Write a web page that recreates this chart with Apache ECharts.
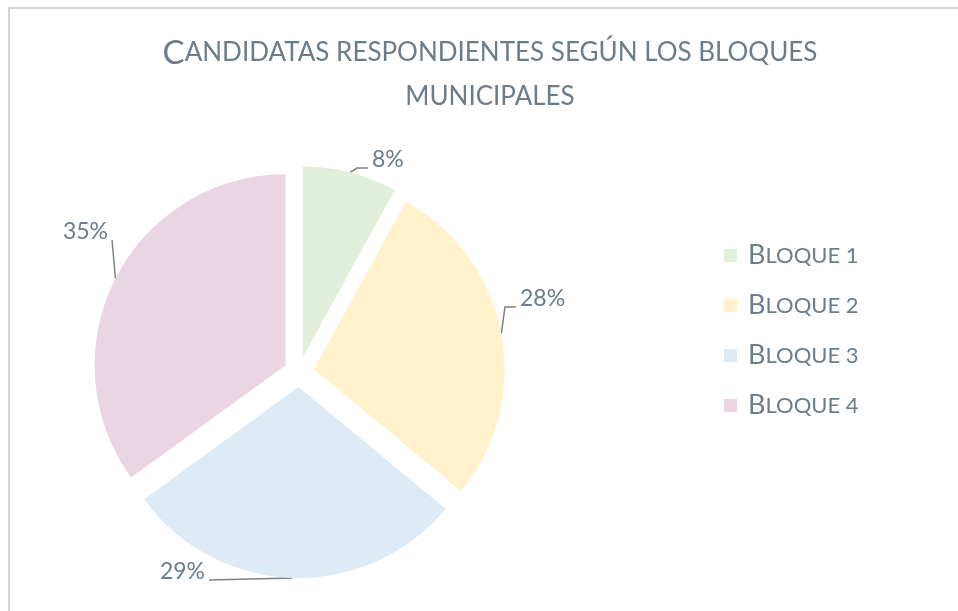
<!DOCTYPE html>
<html>
<head>
<meta charset="utf-8">
<script src="https://cdn.jsdelivr.net/npm/echarts@6/dist/echarts.min.js"></script>
<style>
  html, body { margin: 0; padding: 0; background: #fff; }
  #frame { position: absolute; left: 8px; top: 7px; width: 970px; height: 640px; border: 2px solid #d4d4d4; box-sizing: border-box; }
  #main { position: absolute; left: 0; top: 0; width: 958px; height: 611px; }
</style>
</head>
<body>
<div id="frame"></div>
<div id="main"></div>
<script>
const categories = ['Bloque 1', 'Bloque 2', 'Bloque 3', 'Bloque 4']
const values = [8, 28, 29, 35]
const colors = ['#e2efda', '#fff2cc', '#ddebf7', '#ead6e2']

// where each percent label sits (near edge x, middle y, align), Excel-like manual placement
const labelSpots = [
  [372, 160, 'left'],
  [520, 299, 'left'],
  [205, 572, 'right'],
  [108, 232, 'right']
]

const textColor = '#6b7d8a'
const fontFamily = 'Lato, "Noto Sans", sans-serif'
const explode = 15

// labels ride along with the exploded slice, so work out each slice's shift
const total = values.reduce((a, b) => a + b, 0)
let acc = 0
const shifts = values.map((v) => {
  const mid = ((acc + v / 2) / total) * Math.PI * 2
  acc += v
  return [explode * Math.sin(mid), -explode * Math.cos(mid)]
})

const chart = echarts.init(document.getElementById('main'))

const option = {
  backgroundColor: 'transparent',
  title: {
    left: 485,
    top: 26,
    textAlign: 'center',
    text: '{b|C}{s|ANDIDATAS RESPONDIENTES SEGÚN LOS BLOQUES}\n{s|MUNICIPALES}',
    textStyle: {
      rich: {
        b: { fontSize: 33, color: textColor, fontFamily: fontFamily, fontWeight: 400, lineHeight: 44 },
        s: { fontSize: 26, color: textColor, fontFamily: fontFamily, fontWeight: 400, lineHeight: 44 }
      }
    }
  },
  legend: {
    orient: 'vertical',
    left: 719,
    top: 237,
    itemWidth: 13,
    itemHeight: 13,
    itemGap: 23,
    icon: 'rect',
    data: categories,
    formatter: (name) => '{b|' + name.charAt(0).toUpperCase() + '}{s|' + name.slice(1).toUpperCase() + '}',
    textStyle: {
      rich: {
        b: { fontSize: 27, color: textColor, fontFamily: fontFamily, fontWeight: 400, lineHeight: 30, padding: [0, 0, 0, 6] },
        s: { fontSize: 22, color: textColor, fontFamily: fontFamily, fontWeight: 400, lineHeight: 30 }
      }
    }
  },
  series: [
    {
      type: 'pie',
      center: [299, 372],
      radius: 191,
      startAngle: 90,
      clockwise: true,
      selectedMode: 'multiple',
      selectedOffset: explode,
      animation: false,
      label: {
        formatter: '{d}%',
        fontSize: 23,
        color: textColor,
        fontFamily: fontFamily,
        fontWeight: 400
      },
      labelLine: {
        length: 6,
        length2: 14,
        lineStyle: { color: '#808080', width: 1.5 }
      },
      labelLayout: (params) => {
        const i = params.dataIndex
        const spot = labelSpots[i]
        const sh = shifts[i]
        const r = params.labelRect
        const toRight = spot[2] === 'left'
        const tx = spot[0] - sh[0]
        const ty = spot[1] - sh[1]
        const dx = toRight ? tx - r.x : tx - (r.x + r.width)
        const dy = ty - (r.y + r.height / 2)
        const start = params.labelLinePoints[0]
        const end = [tx + (toRight ? -4 : 4), ty + 8]
        const pts = toRight ? [start, [end[0] - 11, end[1]], end] : [start, end]
        return {
          dx: dx,
          dy: dy,
          labelLinePoints: pts
        }
      },
      emphasis: { disabled: true },
      data: categories.map((name, i) => ({
        name: name,
        value: values[i],
        selected: true,
        itemStyle: { color: colors[i] }
      }))
    }
  ]
}

chart.setOption(option)
</script>
</body>
</html>
